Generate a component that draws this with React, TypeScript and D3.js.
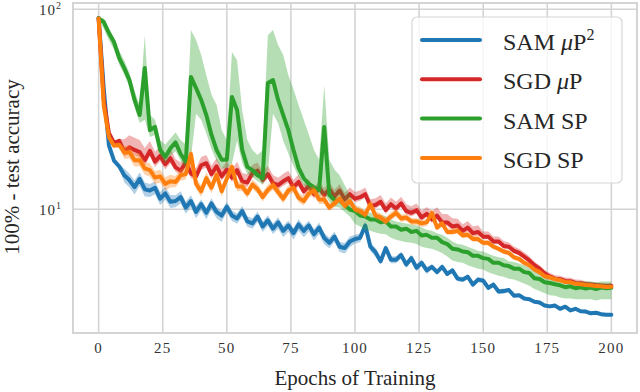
import React from 'react'
import * as d3 from 'd3'

// epochs are sampled every 2 epochs, 0..200
const epochs = d3.range(0, 201, 2)

const xTicks = [0, 25, 50, 75, 100, 125, 150, 175, 200]
const yTicks = [10, 100]

// 100% - test accuracy
const samMuP2 = [
  90.5, 40, 20.9, 17.5, 16.4, 14.8, 14.0, 12.9, 14.2, 12.6,
  12.4, 12.8, 11.3, 12.0, 10.9, 11.0, 11.5, 10.2, 11.0, 9.7,
  10.6, 9.6, 10.7, 9.7, 9.3, 10.3, 9.3, 9.0, 9.8, 8.7,
  8.5, 9.2, 8.2, 8.8, 8.0, 8.6, 7.8, 8.3, 7.6, 8.4,
  7.8, 8.3, 7.5, 8.1, 7.2, 6.8, 7.3, 6.5, 6.4, 6.9,
  7.1, 7.2, 8.3, 6.5, 6.1, 5.5, 6.4, 5.6, 5.6, 5.9,
  5.3, 5.7, 5.1, 5.4, 4.95, 5.15, 4.85, 5.15, 4.75, 4.95,
  4.5, 4.45, 4.6, 4.2, 4.45, 4.4, 4.05, 4.2, 3.88, 3.9,
  3.95, 3.7, 3.72, 3.58, 3.55, 3.45, 3.42, 3.3, 3.27, 3.3,
  3.18, 3.26, 3.12, 3.18, 3.09, 3.08, 3.02, 3.04, 2.99, 2.97,
  2.97,
]

const sgdMuP = [
  90, 35, 24.1, 21.5, 22.0, 19.5, 20.4, 19.8, 19.3, 17.6,
  19.6, 17.3, 18.5, 16.8, 18.0, 16.2, 15.6, 17.2, 15.1, 14.6,
  16.6, 17.0, 15.0, 16.4, 14.6, 15.8, 14.4, 15.7, 13.8, 13.6,
  15.2, 15.6, 14.0, 15.0, 13.5, 13.2, 13.8, 14.3, 12.9, 13.7,
  12.3, 13.1, 11.9, 12.8, 11.8, 12.6, 11.6, 12.4, 11.2, 11.9,
  11.3, 11.5, 11.9, 10.4, 10.5, 10.9, 9.9, 10.6, 10.1, 10.7,
  9.8, 9.6, 9.9, 9.1, 9.5, 8.9, 9.3, 8.6, 8.6, 8.2,
  8.3, 7.8, 8.1, 7.6, 7.7, 7.3, 7.3, 6.9, 6.9, 6.55,
  6.5, 6.2, 6.05, 5.8, 5.55, 5.25, 5.05, 4.78, 4.62, 4.5,
  4.47, 4.38, 4.37, 4.28, 4.27, 4.23, 4.21, 4.18, 4.16, 4.14,
  4.15,
]

const samSP = [
  90, 86.4, 76.1, 68.6, 57.1, 50.8, 44.3, 35.2, 29.6, 50.9,
  24.9, 25.8, 19.8, 18.3, 20.2, 21.6, 18.9, 17.3, 45.9, 40.4,
  35.2, 29.6, 23.6, 19.8, 17.7, 17.7, 36.4, 31.4, 19.8, 16.3,
  15.7, 14.8, 14.3, 42.8, 44.3, 35.2, 29.6, 24.9, 19.8, 16.1,
  14.3, 13.4, 12.9, 12.5, 25.8, 11.8, 11.1, 11.1, 10.5, 9.97,
  9.8, 9.3, 9.2, 8.9, 8.9, 8.6, 8.7, 8.2, 8.2, 7.9,
  8.0, 7.7, 7.8, 7.4, 7.45, 7.2, 7.2, 6.85, 6.7, 6.35,
  6.3, 6.15, 6.1, 5.85, 5.85, 5.7, 5.65, 5.4, 5.4, 5.25,
  5.2, 5.05, 5.05, 4.85, 4.8, 4.52, 4.48, 4.32, 4.28, 4.22,
  4.17, 4.08, 4.12, 4.03, 4.07, 4.02, 4.06, 3.99, 4.06, 4.03,
  4.05,
]

const samSPHi = [
  90, 90, 80.6, 71.9, 62.2, 55.4, 48.2, 39.1, 33.2, 74.2,
  29.6, 28.0, 22.2, 21.0, 22.6, 24.2, 22.2, 21.0, 78.7, 70.2,
  59.0, 46.8, 37.5, 33.2, 24.9, 22.2, 61.2, 55.6, 31.3, 22.2,
  19.8, 18.7, 19.8, 74.2, 78.7, 66.3, 59.0, 46.8, 39.8, 33.2,
  28.0, 23.6, 19.8, 17.7, 41.7, 17.7, 15.8, 14.8, 13.2, 11.8,
  10.4, 10.1, 9.8, 9.6, 9.5, 9.4, 9.2, 8.9, 8.7, 8.6,
  8.5, 8.4, 8.3, 8.1, 7.9, 7.8, 7.6, 7.45, 7.2, 6.9,
  6.7, 6.65, 6.5, 6.35, 6.2, 6.15, 6.0, 5.85, 5.75, 5.7,
  5.5, 5.45, 5.35, 5.25, 5.1, 4.9, 4.8, 4.7, 4.6, 4.55,
  4.45, 4.4, 4.4, 4.35, 4.35, 4.35, 4.35, 4.3, 4.35, 4.35,
  4.35,
]

const samSPLo = [
  88, 80, 70, 63, 53, 47, 41, 32.5, 27, 28,
  23, 23.5, 18.5, 17, 18.5, 19.5, 17.5, 16, 18, 30,
  28, 24, 20, 17.5, 16, 16, 17, 22, 17, 15,
  14.5, 13.8, 13.3, 15, 30, 27, 22, 19, 16.5, 14.5,
  13.2, 12.4, 12, 11.6, 12, 10.9, 10.3, 10.2, 9.7, 9.2,
  8.45, 8.2, 7.9, 7.8, 7.65, 7.55, 7.5, 7.2, 7.05, 6.95,
  6.85, 6.8, 6.7, 6.5, 6.4, 6.35, 6.2, 6.05, 5.8, 5.55,
  5.45, 5.4, 5.25, 5.15, 5.05, 5.0, 4.85, 4.75, 4.65, 4.6,
  4.5, 4.45, 4.35, 4.25, 4.15, 4.0, 3.9, 3.8, 3.72, 3.7,
  3.62, 3.58, 3.58, 3.55, 3.55, 3.55, 3.55, 3.5, 3.55, 3.55,
  3.55,
]

const sgdSP = [
  90, 33, 23.0, 20.8, 21.0, 19.2, 19.3, 17.6, 17.6, 16.0,
  15.7, 14.4, 14.6, 13.4, 13.8, 13.7, 14.8, 15.0, 18.9, 13.4,
  12.3, 14.3, 12.8, 14.9, 12.3, 14.2, 16.3, 13.0, 13.0, 12.0,
  13.3, 12.6, 11.5, 12.5, 13.2, 12.2, 11.3, 12.4, 12.8, 11.4,
  11.0, 12.0, 12.4, 11.2, 11.2, 10.2, 10.7, 11.3, 10.4, 11.0,
  10.0, 9.8, 9.4, 10.6, 9.3, 9.1, 8.7, 9.2, 9.6, 9.0,
  9.1, 8.7, 8.7, 8.5, 8.6, 9.6, 8.1, 8.5, 7.7, 7.7,
  7.8, 7.4, 7.45, 7.1, 7.1, 6.8, 6.8, 6.5, 6.35, 6.15,
  6.05, 5.75, 5.65, 5.4, 5.25, 5.0, 4.85, 4.62, 4.57, 4.48,
  4.42, 4.33, 4.32, 4.24, 4.22, 4.18, 4.17, 4.13, 4.12, 4.09,
  4.1,
]

// band factors, one per 10 epochs (upper / lower relative to the mean)
const samMuP2Up = [1.02, 1.08, 1.08, 1.07, 1.06, 1.06, 1.06, 1.06, 1.06, 1.06, 1.05, 1.04, 1.04, 1.03, 1.03, 1.03, 1.02, 1.02, 1.02, 1.02, 1.02]
const samMuP2Dn = [0.98, 0.92, 0.93, 0.93, 0.93, 0.94, 0.94, 0.93, 0.93, 0.94, 0.95, 0.96, 0.96, 0.97, 0.97, 0.97, 0.98, 0.98, 0.98, 0.98, 0.98]
const sgdMuPUp = [1.02, 1.15, 1.12, 1.1, 1.1, 1.1, 1.1, 1.09, 1.08, 1.08, 1.08, 1.08, 1.08, 1.1, 1.08, 1.06, 1.05, 1.04, 1.04, 1.03, 1.03]
const sgdMuPDn = [0.98, 0.94, 0.94, 0.95, 0.95, 0.95, 0.95, 0.95, 0.95, 0.96, 0.96, 0.96, 0.96, 0.96, 0.96, 0.97, 0.97, 0.97, 0.98, 0.98, 0.98]
const sgdSPUp = [1.02, 1.08, 1.08, 1.07, 1.07, 1.06, 1.06, 1.06, 1.06, 1.05, 1.05, 1.05, 1.04, 1.04, 1.04, 1.03, 1.03, 1.03, 1.02, 1.02, 1.02]
const sgdSPDn = [0.98, 0.93, 0.93, 0.94, 0.94, 0.95, 0.95, 0.95, 0.95, 0.96, 0.96, 0.96, 0.96, 0.97, 0.97, 0.97, 0.97, 0.97, 0.98, 0.98, 0.98]

const scaled = (vals: number[], f: number[]) => vals.map((v, i) => v * f[Math.floor(i / 5)])

const series = [
  { key: 'sam-mup2', color: '#1f77b4', mean: samMuP2, lo: scaled(samMuP2, samMuP2Dn), hi: scaled(samMuP2, samMuP2Up) },
  { key: 'sgd-mup', color: '#d62728', mean: sgdMuP, lo: scaled(sgdMuP, sgdMuPDn), hi: scaled(sgdMuP, sgdMuPUp) },
  { key: 'sam-sp', color: '#2ca02c', mean: samSP, lo: samSPLo, hi: samSPHi },
  { key: 'sgd-sp', color: '#ff7f0e', mean: sgdSP, lo: scaled(sgdSP, sgdSPDn), hi: scaled(sgdSP, sgdSPUp) },
]

const font = '"Liberation Serif", "Times New Roman", serif'
const gridColor = '#d4d4d4'

function LegendLabel({ k }: { k: string }) {
  if (k === 'sam-mup2')
    return (
      <>
        SAM <tspan fontStyle="italic">μ</tspan>P<tspan dy={-10} fontSize={16}>2</tspan>
      </>
    )
  if (k === 'sgd-mup')
    return (
      <>
        SGD <tspan fontStyle="italic">μ</tspan>P
      </>
    )
  if (k === 'sam-sp') return <>SAM SP</>
  return <>SGD SP</>
}

export default function App() {
  const width = 640
  const height = 392
  const plot = { left: 73, right: 637, top: 3, bottom: 333 }

  const x = d3.scaleLinear().domain([-10, 210]).range([plot.left, plot.right])
  const y = d3.scaleLog().domain([2.407, 107.5]).range([plot.bottom, plot.top])

  const line = (vals: number[]) =>
    d3
      .line<number>()
      .x((d, i) => x(epochs[i]))
      .y((d) => y(d))(vals) as string

  const area = (lo: number[], hi: number[]) =>
    d3
      .area<number>()
      .x((d, i) => x(epochs[i]))
      .y0((d) => y(d))
      .y1((d, i) => y(hi[i]))(lo) as string

  return (
    <svg
      width={width}
      height={height}
      style={{ position: 'absolute', left: 0, top: 0, background: '#fff' }}
      fontFamily={font}
    >
      <defs>
        <clipPath id="plot-clip">
          <rect x={plot.left} y={plot.top} width={plot.right - plot.left} height={plot.bottom - plot.top} />
        </clipPath>
      </defs>

      {/* grid */}
      {xTicks.map((t) => (
        <line key={'gx' + t} x1={x(t)} x2={x(t)} y1={plot.top} y2={plot.bottom} stroke={gridColor} strokeWidth={1.6} />
      ))}
      {yTicks.map((t) => (
        <line key={'gy' + t} x1={plot.left} x2={plot.right} y1={y(t)} y2={y(t)} stroke={gridColor} strokeWidth={1.6} />
      ))}

      <g clipPath="url(#plot-clip)">
        {series.map((s) => (
          <g key={s.key}>
            <path d={area(s.lo, s.hi)} fill={s.color} fillOpacity={0.35} stroke="none" />
            <path d={line(s.mean)} fill="none" stroke={s.color} strokeWidth={4} strokeLinejoin="round" strokeLinecap="round" />
          </g>
        ))}
      </g>

      {/* frame */}
      <rect
        x={plot.left}
        y={plot.top}
        width={plot.right - plot.left}
        height={plot.bottom - plot.top}
        fill="none"
        stroke={gridColor}
        strokeWidth={2}
      />

      {/* x tick labels */}
      {xTicks.map((t) => (
        <text key={'tx' + t} x={x(t)} y={353} textAnchor="middle" fontSize={15} letterSpacing={1.2} fill="#333">
          {t}
        </text>
      ))}

      {/* y tick labels */}
      {yTicks.map((t) => (
        <text key={'ty' + t} x={62} y={y(t) + 6} textAnchor="end" fontSize={15} letterSpacing={1} fill="#333">
          10
          <tspan dy={-6} fontSize={10}>
            {Math.round(Math.log10(t))}
          </tspan>
        </text>
      ))}

      <text x={(plot.left + plot.right) / 2} y={385} textAnchor="middle" fontSize={21} fill="#262626">
        Epochs of Training
      </text>
      <text transform="translate(19,167) rotate(-90)" textAnchor="middle" fontSize={21} fill="#262626">
        100% - test accuracy
      </text>

      {/* legend */}
      <rect x={412} y={17} width={210} height={166} rx={5} fill="#fff" fillOpacity={0.8} stroke="#cccccc" strokeOpacity={0.8} strokeWidth={1.2} />
      {series.map((s, i) => {
        const ly = 40 + i * 39.3
        return (
          <g key={'lg' + s.key}>
            <line x1={422} x2={480} y1={ly} y2={ly} stroke={s.color} strokeWidth={4} strokeLinecap="round" />
            <text x={503} y={ly + 10} fontSize={24} fill="#262626">
              <LegendLabel k={s.key} />
            </text>
          </g>
        )
      })}
    </svg>
  )
}
